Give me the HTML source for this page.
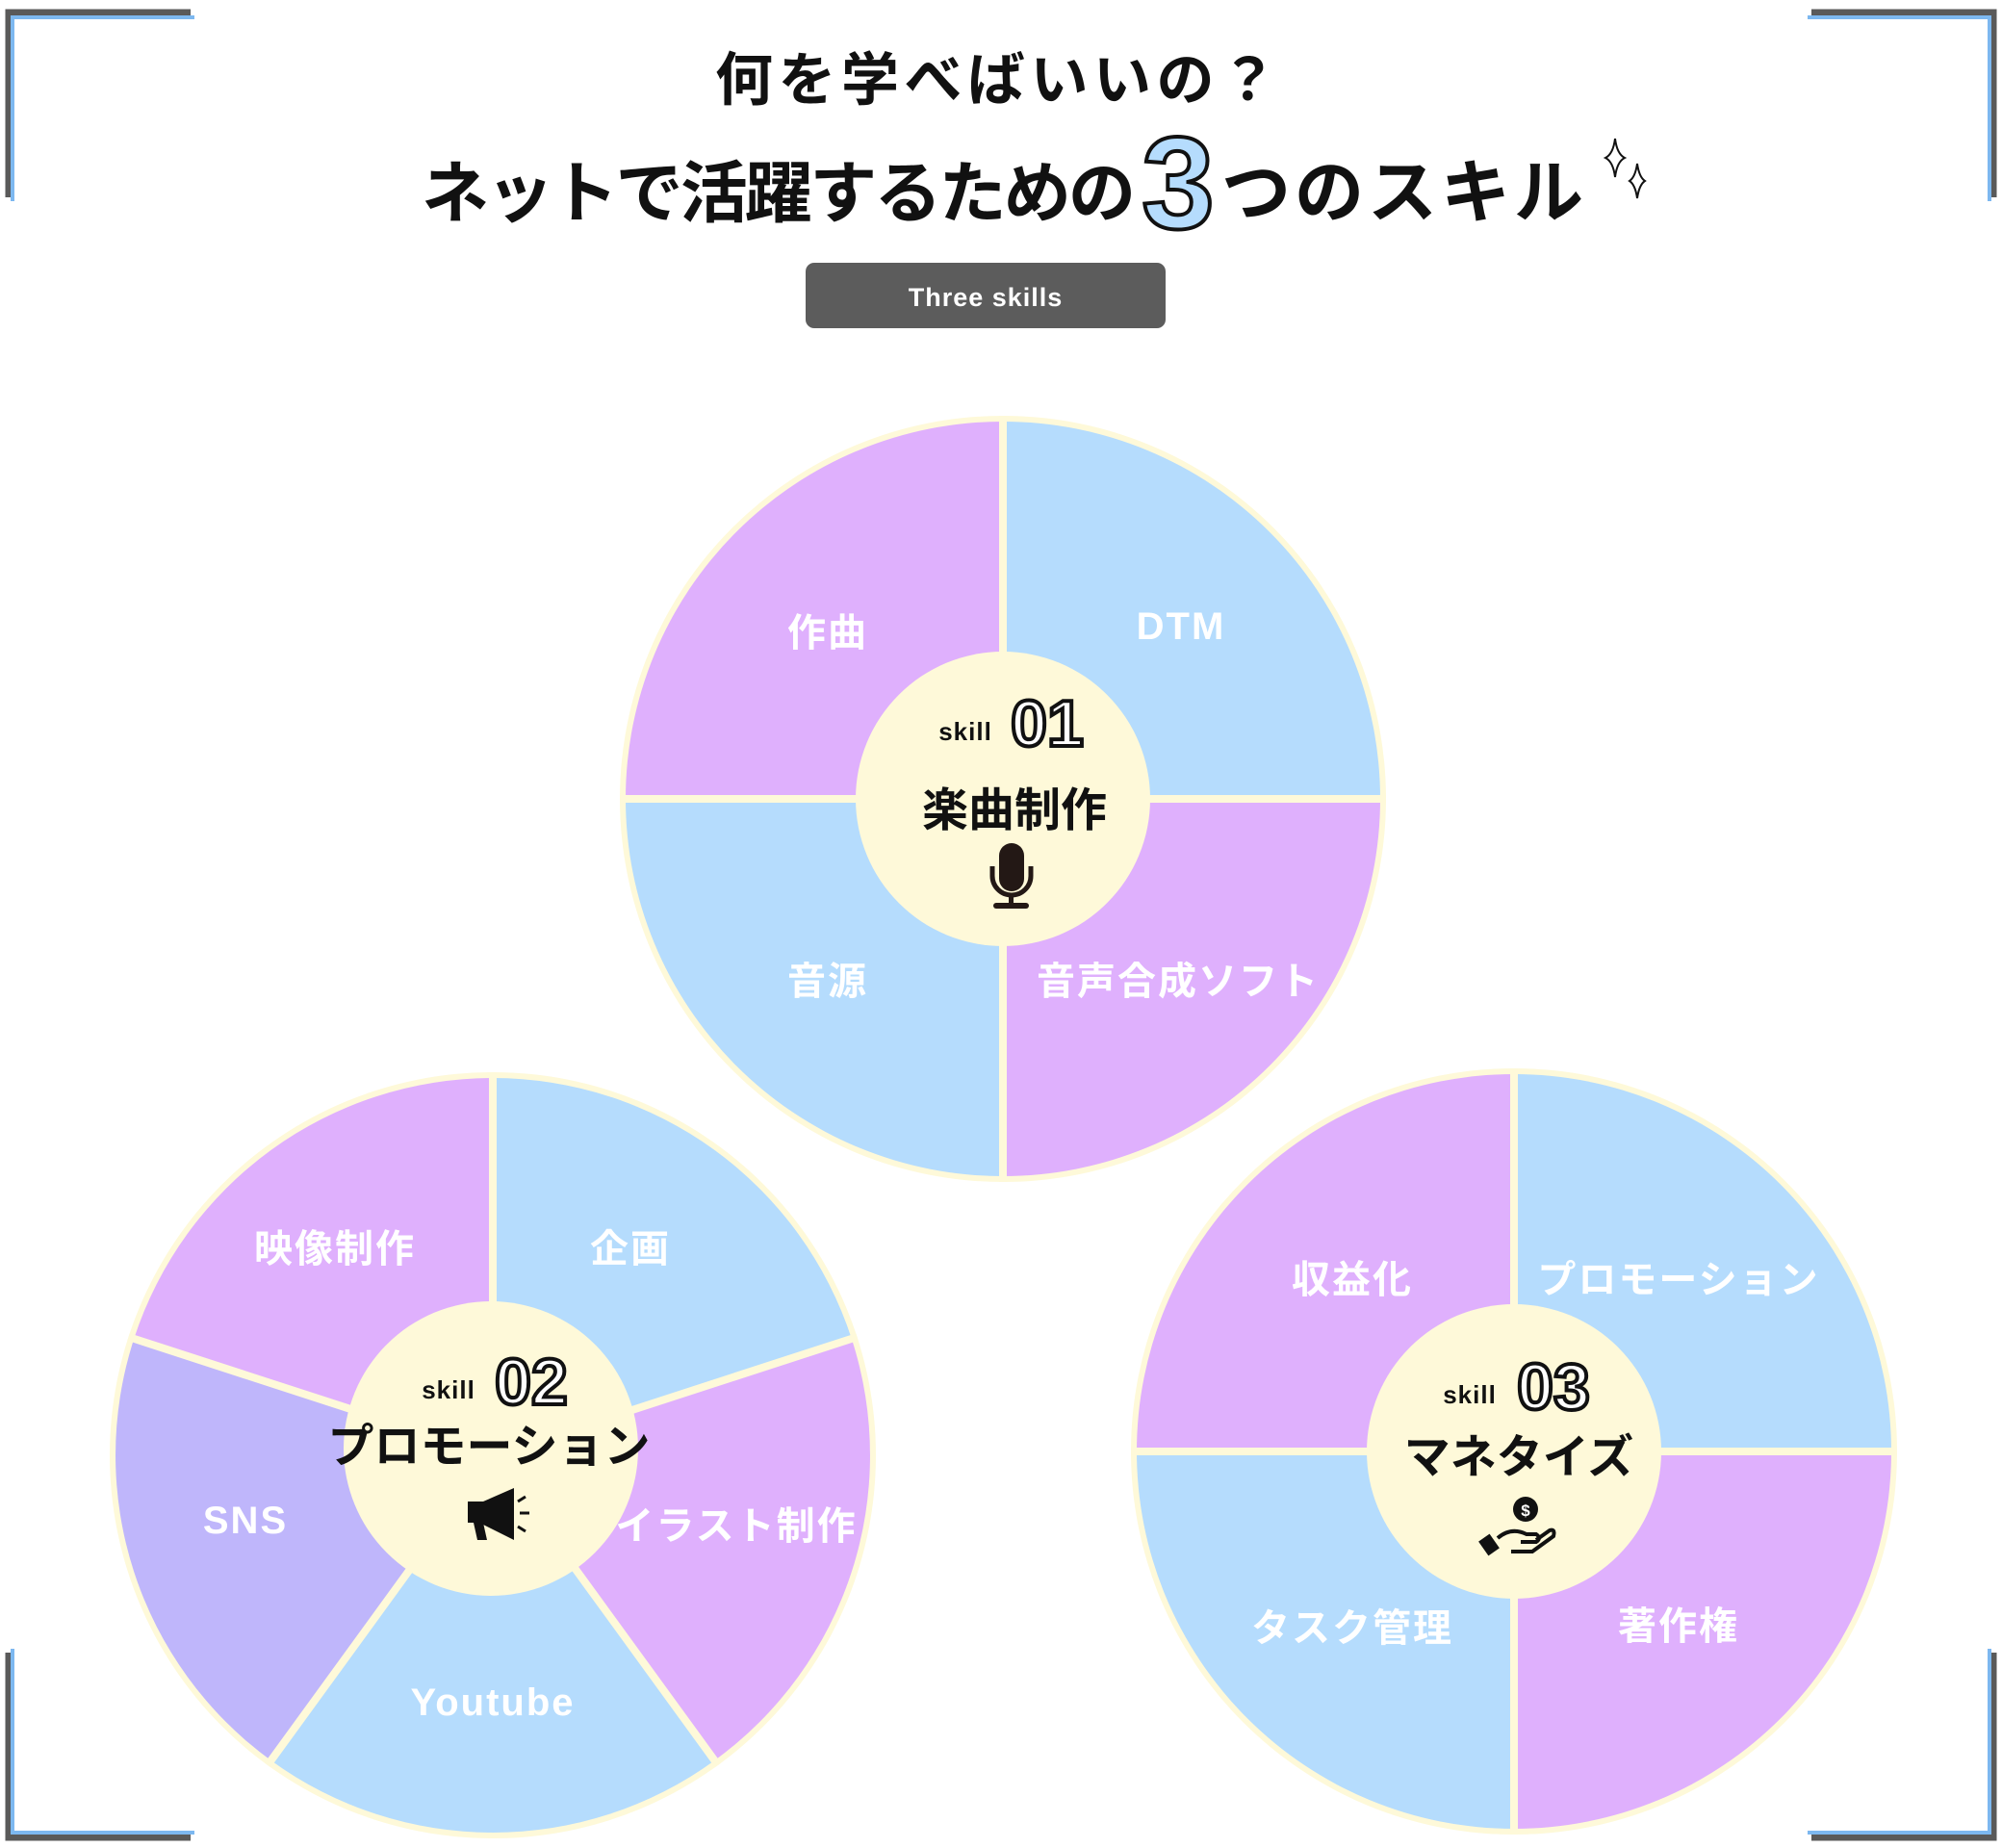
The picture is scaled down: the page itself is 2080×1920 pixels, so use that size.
<!DOCTYPE html>
<html><head><meta charset="utf-8"><style>
html,body{margin:0;padding:0;background:#fff;}
svg{display:block;}
text{font-family:"Liberation Sans","Noto Sans CJK JP",sans-serif;font-weight:bold;}
</style></head><body>
<svg width="2080" height="1920" viewBox="0 0 2080 1920" xmlns="http://www.w3.org/2000/svg">
<!-- corner brackets -->
<g fill="none" stroke-width="7">
 <path d="M9 205 V13 H198" stroke="#5a5a5a"/>
 <path d="M13 209 V18 H202" stroke="#7db8f0" stroke-width="4"/>
 <path d="M2071 205 V13 H1882" stroke="#5a5a5a"/>
 <path d="M2067 209 V18 H1878" stroke="#7db8f0" stroke-width="4"/>
 <path d="M9 1717 V1909 H198" stroke="#5a5a5a"/>
 <path d="M13 1713 V1904 H202" stroke="#7db8f0" stroke-width="4"/>
 <path d="M2071 1717 V1909 H1882" stroke="#5a5a5a"/>
 <path d="M2067 1713 V1904 H1878" stroke="#7db8f0" stroke-width="4"/>
</g>
<!-- title -->
<text x="743" y="104" font-size="60" fill="#111" textLength="584" lengthAdjust="spacing">何を学べばいいの？</text>
<text x="438" y="225" font-size="70" fill="#111" textLength="742" lengthAdjust="spacing">ネットで活躍するための</text>
<text x="1224" y="237" font-size="136" fill="#b5dcfd" stroke="#111" stroke-width="4" text-anchor="middle" font-family="Liberation Sans">3</text>
<text x="1269" y="225" font-size="72" fill="#111" textLength="376" lengthAdjust="spacing">つのスキル</text>
<g fill="#fff" stroke="#111" stroke-width="2">
 <path d="M1678 144 Q1680 160 1688 164 Q1680 168 1678 184 Q1676 168 1668 164 Q1676 160 1678 144Z"/>
 <path d="M1701 170 Q1703 184 1709 188 Q1703 192 1701 206 Q1699 192 1693 188 Q1699 184 1701 170Z"/>
</g>
<rect x="837" y="273" width="374" height="68" rx="9" fill="#5c5c5c"/>
<text x="1024" y="318" font-size="27" fill="#fff" text-anchor="middle" font-family="Liberation Sans" letter-spacing="1">Three skills</text>

<!-- Circle 1 -->
<g>
 <circle cx="1042" cy="830" r="398" fill="#fef9d9"/>
 <path d="M1042 830 V438 A392 392 0 0 0 650 830Z" fill="#dfb0fd"/>
 <path d="M1042 830 V438 A392 392 0 0 1 1434 830Z" fill="#b5dcfd"/>
 <path d="M1042 830 H1434 A392 392 0 0 1 1042 1222Z" fill="#dfb0fd"/>
 <path d="M1042 830 V1222 A392 392 0 0 1 650 830Z" fill="#b5dcfd"/>
 <path d="M1042 432 V1228 M644 830 H1440" stroke="#fef9d9" stroke-width="8"/>
 <circle cx="1042" cy="830" r="153" fill="#fef9d9"/>
 <g font-size="40" fill="#fff" text-anchor="middle" letter-spacing="2">
  <text x="860" y="671">作曲</text>
  <text x="1227" y="664">DTM</text>
  <text x="860" y="1033">音源</text>
  <text x="1224" y="1033">音声合成ソフト</text>
 </g>
 <text x="1003" y="769" font-size="26" fill="#111" text-anchor="middle" letter-spacing="1">skill</text>
 <text x="1088" y="775" font-size="68" fill="#fff" stroke="#111" stroke-width="4" text-anchor="middle" font-family="Liberation Sans">01</text>
 <text x="1054" y="858" font-size="48" fill="#111" text-anchor="middle">楽曲制作</text>
 <g fill="#231815">
  <rect x="1038" y="876" width="26" height="50" rx="13"/>
  <path d="M1031 900 v10 a20 20 0 0 0 40 0 v-10" fill="none" stroke="#231815" stroke-width="5"/>
  <rect x="1048" y="928" width="5" height="14"/>
  <rect x="1032" y="938" width="37" height="6" rx="3"/>
 </g>
</g>

<!-- Circle 2 -->
<g>
 <circle cx="512" cy="1512" r="398" fill="#fef9d9"/>
 <path d="M512 1512 L512 1120 A392 392 0 0 1 884.8 1390.9Z" fill="#b5dcfd"/>
 <path d="M512 1512 L884.8 1390.9 A392 392 0 0 1 742.4 1829.1Z" fill="#dfb0fd"/>
 <path d="M512 1512 L742.4 1829.1 A392 392 0 0 1 281.6 1829.1Z" fill="#b5dcfd"/>
 <path d="M512 1512 L281.6 1829.1 A392 392 0 0 1 139.2 1390.9Z" fill="#bfb6fb"/>
 <path d="M512 1512 L139.2 1390.9 A392 392 0 0 1 512 1120Z" fill="#dfb0fd"/>
 <path d="M512 1512 L512 1114 M512 1512 L890.5 1389 M512 1512 L746 1834 M512 1512 L278 1834 M512 1512 L133.5 1389" stroke="#fef9d9" stroke-width="8"/>
 <circle cx="510" cy="1505" r="153" fill="#fef9d9"/>
 <g font-size="40" fill="#fff" text-anchor="middle" letter-spacing="2">
  <text x="348" y="1311">映像制作</text>
  <text x="655" y="1311">企画</text>
  <text x="255" y="1593">SNS</text>
  <text x="765" y="1599">イラスト制作</text>
  <text x="512" y="1782">Youtube</text>
 </g>
 <text x="466" y="1453" font-size="26" fill="#111" text-anchor="middle" letter-spacing="1">skill</text>
 <text x="552" y="1459" font-size="68" fill="#fff" stroke="#111" stroke-width="4" text-anchor="middle" font-family="Liberation Sans">02</text>
 <text x="508" y="1519" font-size="48" fill="#111" text-anchor="middle">プロモーション</text>
 <g fill="#111">
  <rect x="486" y="1560" width="16" height="22"/>
  <path d="M502 1560 L534 1546 V1600 L502 1584Z"/>
  <path d="M492 1582 h10 l4 18 h-10z"/>
  <path d="M540 1572 h10 M538 1560 l8 -5 M538 1586 l8 5" stroke="#111" stroke-width="3"/>
 </g>
</g>

<!-- Circle 3 -->
<g>
 <circle cx="1573" cy="1508" r="398" fill="#fef9d9"/>
 <path d="M1573 1508 V1116 A392 392 0 0 0 1181 1508Z" fill="#dfb0fd"/>
 <path d="M1573 1508 V1116 A392 392 0 0 1 1965 1508Z" fill="#b5dcfd"/>
 <path d="M1573 1508 H1965 A392 392 0 0 1 1573 1900Z" fill="#dfb0fd"/>
 <path d="M1573 1508 V1900 A392 392 0 0 1 1181 1508Z" fill="#b5dcfd"/>
 <path d="M1573 1110 V1906 M1175 1508 H1971" stroke="#fef9d9" stroke-width="8"/>
 <circle cx="1573" cy="1508" r="153" fill="#fef9d9"/>
 <g font-size="40" fill="#fff" text-anchor="middle" letter-spacing="2">
  <text x="1405" y="1343">収益化</text>
  <text x="1744" y="1343">プロモーション</text>
  <text x="1405" y="1705">タスク管理</text>
  <text x="1744" y="1703">著作権</text>
 </g>
 <text x="1527" y="1458" font-size="26" fill="#111" text-anchor="middle" letter-spacing="1">skill</text>
 <text x="1614" y="1464" font-size="68" fill="#fff" stroke="#111" stroke-width="4" text-anchor="middle" font-family="Liberation Sans">03</text>
 <text x="1578" y="1530" font-size="48" fill="#111" text-anchor="middle">マネタイズ</text>
 <circle cx="1585" cy="1568" r="13" fill="#111"/>
 <text x="1585" y="1575" font-size="17" fill="#fff" text-anchor="middle" font-family="Liberation Sans">$</text>
 <path d="M1556 1598 q14 -12 30 -4 h10 q6 4 0 8 h-16 M1596 1600 l14 -10 q6 -2 4 6 l-22 16 h-22" fill="none" stroke="#111" stroke-width="4"/>
 <rect x="1540" y="1596" width="14" height="18" transform="rotate(-35 1547 1605)" fill="#111"/>
</g>
</svg>
</body></html>
